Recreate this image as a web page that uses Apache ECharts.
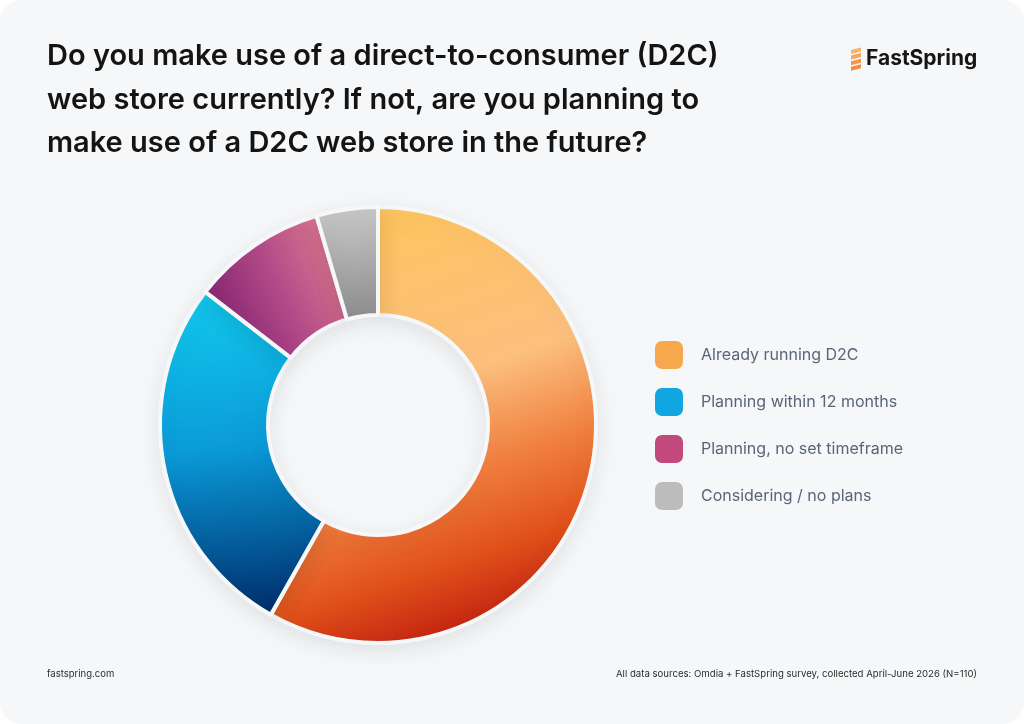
<!DOCTYPE html>
<html>
  <head>
    <meta charset="utf-8" />
    <title></title>
    <style>
      body {
        margin: 0;
        padding: 0;
        background: #ffffff;
      }
      #card {
        position: absolute;
        left: 0;
        top: 0;
        width: 1024px;
        height: 724px;
        border-radius: 22px;
        background: #f5f7f9;
        overflow: hidden;
      }
      #chart {
        width: 1024px;
        height: 724px;
      }
    </style>
    <script src="https://cdn.jsdelivr.net/npm/echarts@6/dist/echarts.min.js"></script>
  </head>

  <body>
    <div id="card"><div id="chart"></div></div>
  </body>
  <script>
    // data
    const categories = [
      "Already running D2C",
      "Planning within 12 months",
      "Planning, no set timeframe",
      "Considering / no plans",
    ];
    const counts = [64, 30, 11, 5];
    const legendColors = ["#f8a84c", "#0fa6e2", "#c2497c", "#bcbcbc"];

    const titleText =
      "Do you make use of a direct-to-consumer (D2C)\nweb store currently? If not, are you planning to\nmake use of a D2C web store in the future?";
    const footLeft = "fastspring.com";
    const footRight =
      "All data sources: Omdia + FastSpring survey, collected April-June 2026 (N=110)";

    const bg = "#f5f7f9";
    const font = "Inter, 'Noto Sans', sans-serif";

    function grad(x, y, x2, y2, stops) {
      return new echarts.graphic.LinearGradient(
        x,
        y,
        x2,
        y2,
        stops.map((c) => ({ offset: c[0], color: c[1] }))
      );
    }

    const sliceFills = [
      grad(0.25, 0, 0.7, 1, [
        [0, "#fec55c"],
        [0.42, "#fcbf7e"],
        [0.62, "#f08040"],
        [0.8, "#e0501a"],
        [1, "#b8140e"],
      ]),
      grad(0, 0, 0.2, 1, [
        [0, "#12ccee"],
        [0.5, "#0b9ad8"],
        [1, "#00306e"],
      ]),
      grad(0, 0.7, 1, 0.2, [
        [0, "#7e1f70"],
        [0.5, "#b44b88"],
        [1, "#e58192"],
      ]),
      grad(0, 0, 0, 1, [
        [0, "#cacaca"],
        [1, "#8c8c8c"],
      ]),
    ];

    // logo stripes
    const stripes = [0, 1, 2, 3].map((i) => ({
      type: "polygon",
      shape: {
        points: [
          [851, 50 + i * 5.6],
          [861, 50 + i * 5.6 - 2.5],
          [861, 50 + i * 5.6 + 1.5],
          [851, 50 + i * 5.6 + 4],
        ],
      },
      style: { fill: ["#fbb36a", "#f9a55a", "#f6954c", "#f38a45"][i] },
    }));

    const chart = echarts.init(document.getElementById("chart"));
    chart.setOption({
      backgroundColor: "transparent",
      title: {
        text: titleText,
        left: 42,
        top: 30,
        textStyle: {
          fontFamily: font,
          fontSize: 29,
          fontWeight: 600,
          color: "#141414",
          lineHeight: 43.5,
        },
      },
      legend: {
        orient: "vertical",
        left: 650,
        top: 336,
        icon: "roundRect",
        itemWidth: 28,
        itemHeight: 28,
        itemGap: 19,
        selectedMode: false,
        data: categories.map((name, i) => ({
          name: name,
          itemStyle: { color: legendColors[i], borderWidth: 0 },
        })),
        textStyle: {
          fontFamily: font,
          fontSize: 16,
          color: "#5b6578",
          padding: [0, 0, 0, 13],
        },
      },
      graphic: [
        ...stripes,
        {
          type: "text",
          left: 866,
          top: 48,
          style: {
            text: "FastSpring",
            font: "bold 21px " + font,
            fill: "#161616",
          },
        },
        {
          type: "text",
          left: 47,
          top: 669,
          style: {
            text: footLeft,
            font: "9.5px " + font,
            fill: "#2c2c2c",
          },
        },
        {
          type: "text",
          right: 47,
          top: 669,
          style: {
            text: footRight,
            font: "9.6px " + font,
            fill: "#2c2c2c",
          },
        },
      ],
      series: [
        {
          type: "pie",
          center: [378, 425],
          radius: [110, 218],
          startAngle: 90,
          clockwise: true,
          label: { show: false },
          labelLine: { show: false },
          silent: true,
          itemStyle: {
            borderColor: bg,
            borderWidth: 4,
            shadowBlur: 24,
            shadowColor: "rgba(0,0,0,0.09)",
            shadowOffsetY: 6,
          },
          data: categories.map((name, i) => ({
            name: name,
            value: counts[i],
            itemStyle: { color: sliceFills[i] },
          })),
        },
      ],
    });
  </script>
</html>
